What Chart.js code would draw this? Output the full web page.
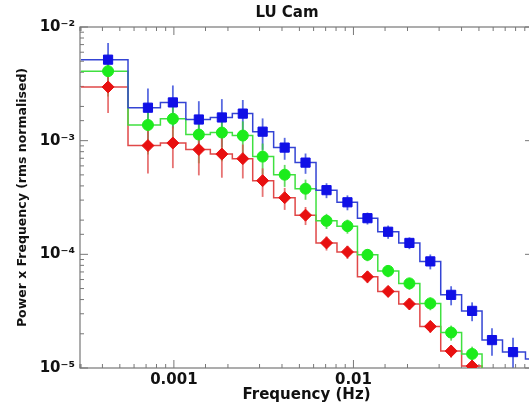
<!DOCTYPE html>
<html lang="en">
<head>
<meta charset="UTF-8">
<title>LU Cam</title>
<script src="https://cdn.jsdelivr.net/npm/chart.js@4.4.1/dist/chart.umd.min.js"></script>
<style>
    html, body { margin: 0; padding: 0; overflow: hidden; background: #fff; }
</style>
</head>
<body>
<canvas id="psd" width="574" height="406"></canvas>
<script>
// bin centres (Hz), logarithmic binning
const freq = [4.30e-4, 7.17e-4, 9.87e-4, 1.377e-3, 1.85e-3, 2.42e-3, 3.12e-3, 4.14e-3, 5.41e-3, 7.08e-3,
              9.26e-3, 1.197e-2, 1.56e-2, 2.05e-2, 2.68e-2, 3.50e-2, 4.58e-2, 5.91e-2, 7.74e-2, 1.065e-1];

// power x frequency, three bands
const bluePow  = [5.16e-3, 1.95e-3, 2.17e-3, 1.535e-3, 1.60e-3, 1.73e-3, 1.20e-3, 8.69e-4, 6.41e-4, 3.67e-4,
                  2.87e-4, 2.08e-4, 1.58e-4, 1.26e-4, 8.67e-5, 4.40e-5, 3.18e-5, 1.76e-5, 1.38e-5, 1.20e-5];
const blueErr  = [2.06e-3, 9.2e-4, 8.9e-4, 6.9e-4, 7.2e-4, 5.5e-4, 3.7e-4, 1.9e-4, 1.3e-4, 5.5e-5,
                  4.3e-5, 2.5e-5, 2.1e-5, 1.5e-5, 1.3e-5, 8.4e-6, 6.0e-6, 4.8e-6, 4.7e-6, 4.2e-6];

const greenPow = [4.09e-3, 1.374e-3, 1.557e-3, 1.132e-3, 1.178e-3, 1.109e-3, 7.24e-4, 5.02e-4, 3.78e-4, 1.97e-4,
                  1.77e-4, 9.90e-5, 7.15e-5, 5.55e-5, 3.70e-5, 2.05e-5, 1.33e-5];
const greenErr = [1.64e-3, 6.2e-4, 6.5e-4, 5.0e-4, 5.2e-4, 3.7e-4, 2.2e-4, 1.1e-4, 7.6e-5, 3.0e-5,
                  2.5e-5, 1.2e-5, 8.6e-6, 6.7e-6, 4.8e-6, 3.1e-6, 2.1e-6];

const redPow   = [2.97e-3, 9.05e-4, 9.53e-4, 8.35e-4, 7.62e-4, 6.95e-4, 4.45e-4, 3.15e-4, 2.21e-4, 1.26e-4,
                  1.05e-4, 6.34e-5, 4.72e-5, 3.66e-5, 2.32e-5, 1.41e-5, 1.04e-5];
const redErr   = [1.22e-3, 3.9e-4, 3.8e-4, 3.4e-4, 2.9e-4, 2.3e-4, 1.25e-4, 6.9e-5, 4.0e-5, 1.8e-5,
                  1.4e-5, 7.6e-6, 5.2e-6, 4.0e-6, 2.8e-6, 1.8e-6, 1.5e-6];

const X_MIN = 3.04e-4, X_MAX = 0.1;
const Y_MIN = 1e-5, Y_MAX = 1e-2;

// bin edges: first one sits on the axis, the rest halfway (in log) between centres
const edges = [X_MIN];
for (let i = 1; i < freq.length; i++) edges.push(Math.sqrt(freq[i - 1] * freq[i]));
edges.push(freq[freq.length - 1] * Math.sqrt(freq[freq.length - 1] / freq[freq.length - 2]));

function stepData(vals, drop) {
    const pts = vals.map((v, i) => ({x: edges[i], y: v}));
    pts.push({x: edges[vals.length], y: vals[vals.length - 1]});
    if (drop) pts.push({x: edges[vals.length], y: Y_MIN});
    return pts;
}

function points(vals) {
    return vals.map((v, i) => ({x: freq[i], y: v}));
}

const isDecade = v => Math.abs(Math.log10(v) - Math.round(Math.log10(v))) < 1e-6;
const SUP = {'-': '\u207B', '0': '\u2070', '1': '\u00B9', '2': '\u00B2', '3': '\u00B3', '4': '\u2074', '5': '\u2075'};
const supText = n => String(n).split('').map(c => SUP[c]).join('');

const FONT = "'DejaVu Sans', sans-serif";

// error bars, under the markers
const errorBars = {
    id: 'errorBars',
    beforeDatasetsDraw(chart) {
        const {ctx, chartArea, scales: {x, y}} = chart;
        ctx.save();
        ctx.beginPath();
        ctx.rect(chartArea.left, chartArea.top, chartArea.width, chartArea.height);
        ctx.clip();
        chart.data.datasets.forEach(ds => {
            if (!ds.errors) return;
            ctx.strokeStyle = ds.errorColor;
            ctx.lineWidth = 1.8;
            ds.data.forEach((p, i) => {
                const px = x.getPixelForValue(p.x);
                const lo = Math.max(p.y - ds.errors[i], Y_MIN / 2);
                ctx.beginPath();
                ctx.moveTo(px, y.getPixelForValue(lo));
                ctx.lineTo(px, y.getPixelForValue(p.y + ds.errors[i]));
                ctx.stroke();
            });
        });
        ctx.restore();
    }
};

// box and inward ticks like IDL
const frame = {
    id: 'frame',
    beforeDatasetsDraw(chart) {
        const {ctx, chartArea: a, scales: {x, y}} = chart;
        ctx.save();
        ctx.strokeStyle = '#777';
        ctx.lineWidth = 1.2;
        ctx.strokeRect(a.left, a.top, a.right - a.left, a.bottom - a.top);
        ctx.lineWidth = 1;
        x.ticks.forEach(t => {
            const px = x.getPixelForValue(t.value);
            const len = isDecade(t.value) ? 8 : 4;
            ctx.beginPath();
            ctx.moveTo(px, a.bottom); ctx.lineTo(px, a.bottom - len);
            ctx.moveTo(px, a.top); ctx.lineTo(px, a.top + len);
            ctx.stroke();
        });
        y.ticks.forEach(t => {
            const py = y.getPixelForValue(t.value);
            const len = isDecade(t.value) ? 8 : 4;
            ctx.beginPath();
            ctx.moveTo(a.left, py); ctx.lineTo(a.left + len, py);
            ctx.moveTo(a.right, py); ctx.lineTo(a.right - len, py);
            ctx.stroke();
        });
        ctx.restore();
    }
};

const bands = [
    {vals: bluePow,  err: blueErr,  color: '#1010e6', line: '#3444d4', errColor: 'rgba(60,80,220,0.85)', style: 'rect',    r: 6.5, drop: false},
    {vals: greenPow, err: greenErr, color: '#1cec1c', line: '#40e040', errColor: 'rgba(60,210,60,0.8)',  style: 'circle',  r: 5.5, drop: true},
    {vals: redPow,   err: redErr,   color: '#e81010', line: '#e04848', errColor: 'rgba(225,80,80,0.8)',  style: 'rectRot', r: 6,   drop: true}
];

const datasets = [];
bands.forEach((b, k) => {
    datasets.push({
        data: points(b.vals),
        errors: b.err,
        errorColor: b.errColor,
        showLine: false,
        pointStyle: b.style,
        pointRadius: b.r,
        pointBackgroundColor: b.color,
        pointBorderColor: b.color,
        pointBorderWidth: 1,
        order: k
    });
    datasets.push({
        data: stepData(b.vals, b.drop),
        stepped: 'before',
        borderColor: b.line,
        borderWidth: 1.5,
        pointRadius: 0,
        fill: false,
        order: 10 + k
    });
});

new Chart(document.getElementById('psd').getContext('2d'), {
    type: 'line',
    data: {datasets: datasets},
    options: {
        responsive: false,
        animation: false,
        layout: {padding: 0},
        plugins: {
            legend: {display: false},
            tooltip: {enabled: false},
            title: {
                display: true,
                text: 'LU Cam',
                color: '#111',
                font: {family: FONT, size: 15, weight: 'bold'},
                padding: {top: 4, bottom: 5}
            }
        },
        scales: {
            x: {
                type: 'logarithmic',
                min: X_MIN,
                max: X_MAX,
                grid: {display: false, drawTicks: false},
                border: {display: false},
                afterFit: s => { s.height = 38; },
                ticks: {
                    autoSkip: false,
                    maxRotation: 0,
                    padding: 3,
                    color: '#111',
                    font: {family: FONT, size: 15, weight: 'bold'},
                    callback: v => (isDecade(v) && v < X_MAX * 0.99) ? String(v) : ''
                },
                title: {
                    display: true,
                    text: 'Frequency (Hz)',
                    color: '#111',
                    font: {family: FONT, size: 15, weight: 'bold'},
                    padding: {top: 0, bottom: 2}
                }
            },
            y: {
                type: 'logarithmic',
                min: Y_MIN,
                max: Y_MAX,
                grid: {display: false, drawTicks: false},
                border: {display: false},
                afterFit: s => { s.width = 80; },
                ticks: {
                    autoSkip: false,
                    padding: 5,
                    color: '#111',
                    font: {family: FONT, size: 15, weight: 'bold'},
                    callback: v => isDecade(v) ? '10' + supText(Math.round(Math.log10(v))) : ''
                },
                title: {
                    display: true,
                    text: 'Power x Frequency (rms normalised)',
                    color: '#111',
                    font: {family: FONT, size: 12.5, weight: 'bold'},
                    padding: {top: 15, bottom: 0}
                }
            },
            yRight: {
                type: 'logarithmic',
                position: 'right',
                min: Y_MIN,
                max: Y_MAX,
                grid: {display: false, drawTicks: false},
                border: {display: false},
                ticks: {display: false},
                afterFit: s => { s.width = 41; }
            }
        }
    },
    plugins: [errorBars, frame]
});
</script>
</body>
</html>
